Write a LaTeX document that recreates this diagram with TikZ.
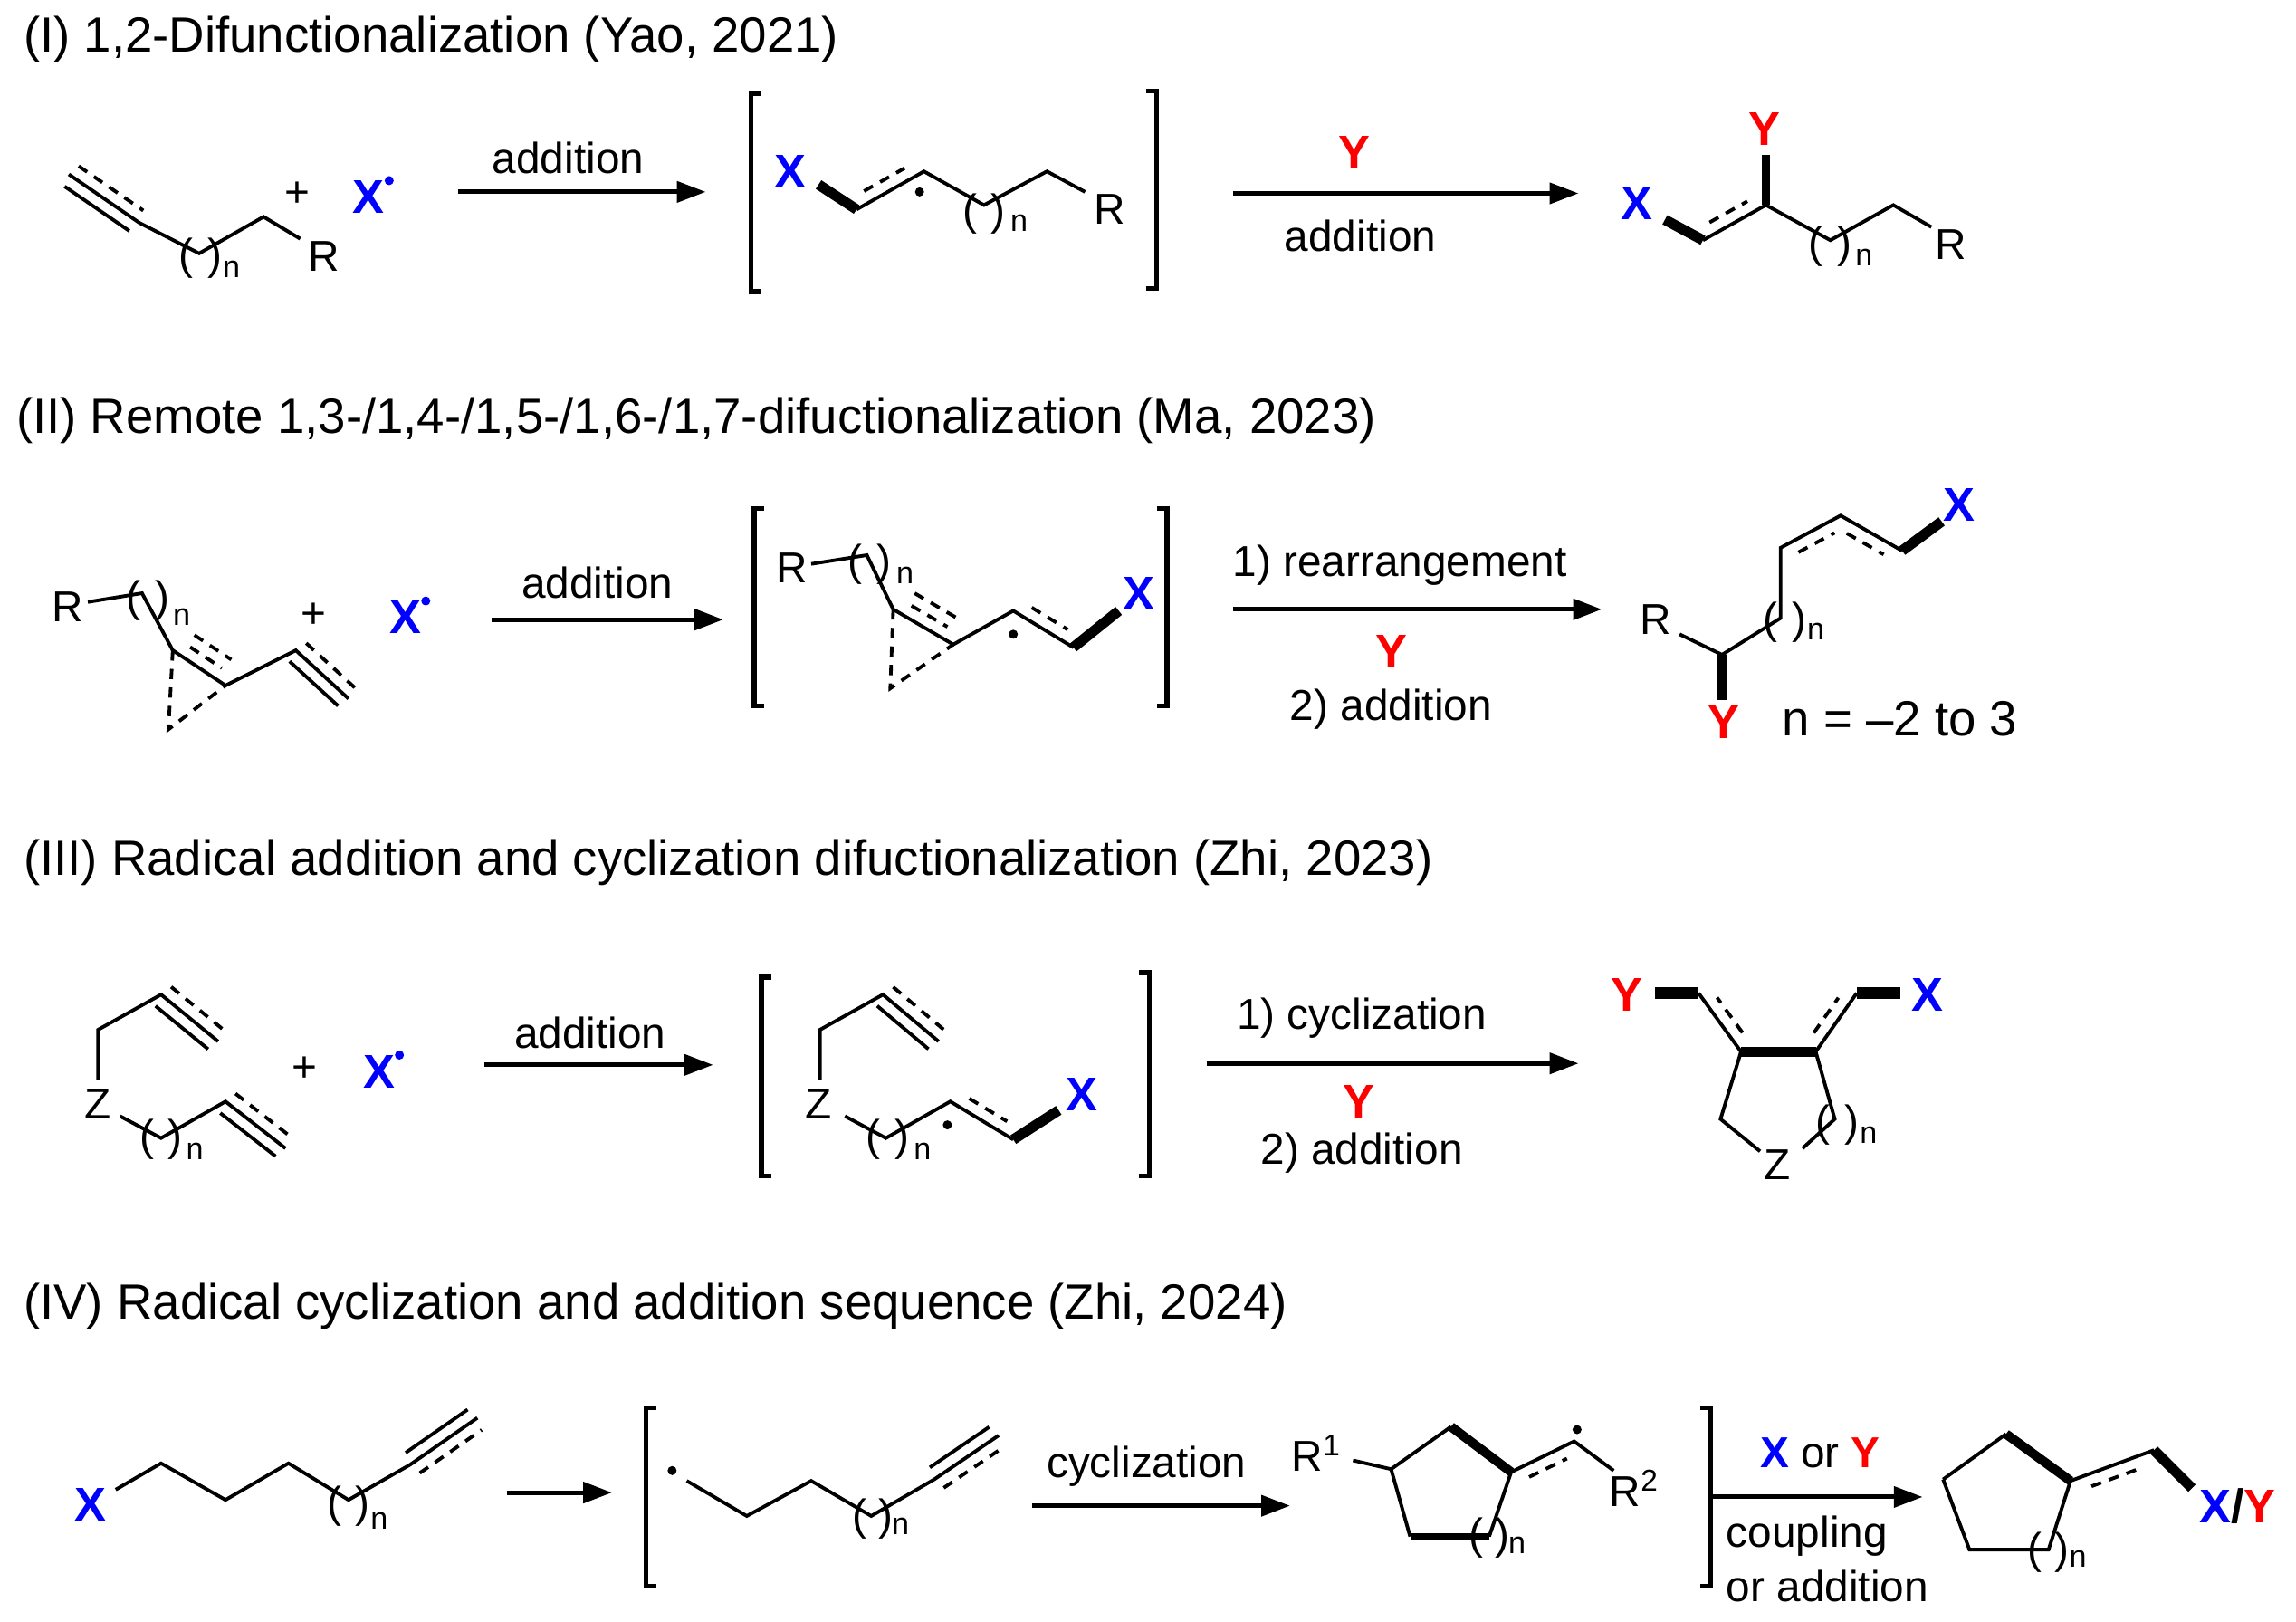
\documentclass[tikz,border=0pt]{standalone}
\usepackage{fontspec}
\setmainfont{Liberation Sans}
\usetikzlibrary{calc,arrows.meta}
\definecolor{xb}{RGB}{0,0,255}
\definecolor{yr}{RGB}{255,0,0}
\newcommand{\rdot}{\raisebox{0.6em}{\tikz\fill (0,0) circle (2.2pt);}}
\newcommand{\offl}[4][dsh]{\draw[#1] ($(#2)!.2!(#3)!6pt!#4:(#3)$) -- ($(#3)!.2!(#2)!6pt!-#4:(#2)$);}
\newcommand{\offt}[4][dsh]{\draw[#1] ($(#2)!.04!(#3)!6pt!#4:(#3)$) -- ($(#3)!.04!(#2)!6pt!-#4:(#2)$);}
\newcommand{\offd}[4][dsh]{\draw[#1] ($(#2)!.15!(#3)!12pt!#4:(#3)$) -- ($(#3)!.15!(#2)!12pt!-#4:(#2)$);}
\begin{document}
\begin{tikzpicture}[x=0.025cm,y=-0.025cm,line width=1.7pt,
 t/.style={font=\fontsize{21}{25}\selectfont,inner sep=0pt},
 ttl/.style={font=\fontsize{24}{28}\selectfont,inner sep=0pt,anchor=west},
 par/.style={font=\fontsize{21}{22}\selectfont,inner sep=0pt},
 sub/.style={font=\fontsize{15}{16}\selectfont,inner sep=0pt},
 bx/.style={font=\fontsize{23}{25}\selectfont\bfseries,inner sep=0pt,text=xb},
 by/.style={font=\fontsize{23}{25}\selectfont\bfseries,inner sep=0pt,text=yr},
 rx/.style={line width=2.2pt,-{Triangle[length=14pt,width=10pt]}},
 wb/.style={line width=5pt},
 br/.style={line width=2.4pt},
 dsh/.style={dash pattern=on 5pt off 4pt}]
\useasboundingbox (0,0) rectangle (1568,1107);
% ===== Row I
\node[ttl] (t1) at (15,27) {(I) 1,2-Difunctionalization (Yao, 2021)};
\coordinate (a1) at (47,119); \coordinate (a2) at (95,152); \coordinate (a3) at (136,173);
\coordinate (a4) at (180,148); \coordinate (a5) at (205,163);
\draw (a1)--(a2)--(a3)--(a4)--(a5);
\offt[]{a1}{a2}{-90}\offt[dsh]{a1}{a2}{90}
\node[t] (r1) at (221,175) {R};
\node[par] (pa1) at (137,176) {(\hspace{7pt})}; \node[sub] (na1) at (158,184) {n};
\node[t] (pl1) at (203,133) {+};
\node[bx] (x1) at (255,133) {X\rdot};
\coordinate (ar1a) at (313,131); \coordinate (ar1b) at (482,131);
\draw[rx] (ar1a)--(ar1b); \node[t] (l1) at (388,108) {addition};
\draw[br] (520,64)--(513,64)--(513,199)--(520,199);
\draw[br] (783,62)--(790,62)--(790,197)--(783,197);
\node[bx] (x2) at (540,117) {X};
\coordinate (b1) at (559,126); \coordinate (b2) at (585,143); \coordinate (b3) at (631,117);
\coordinate (b4) at (672,140); \coordinate (b5) at (715,117); \coordinate (b6) at (741,131);
\draw[wb] (b1)--(b2); \draw (b2)--(b3)--(b4)--(b5)--(b6);
\offl{b2}{b3}{90}
\fill (628,131) circle (2.2pt);
\node[t] (r2) at (758,143) {R};
\node[par] (pb1) at (672,146) {(\hspace{7pt})}; \node[sub] (nb1) at (696,152) {n};
\coordinate (ar2a) at (842,132); \coordinate (ar2b) at (1078,132);
\draw[rx] (ar2a)--(ar2b);
\node[by] (y1) at (925,104) {Y}; \node[t] (l2) at (929,161) {addition};
\node[bx] (x3) at (1118,139) {X};
\coordinate (p1) at (1137,150); \coordinate (p2) at (1163,164); \coordinate (p3) at (1206,140);
\coordinate (p3y) at (1206,106); \coordinate (p4) at (1250,164); \coordinate (p5) at (1293,140); \coordinate (p6) at (1319,155);
\draw[wb] (p1)--(p2); \draw (p2)--(p3)--(p4)--(p5)--(p6); \draw[line width=4pt] (p3)--(p3y);
\offl{p2}{p3}{90}
\node[by] (y2) at (1205,88) {Y};
\node[t] (r3) at (1332,167) {R};
\node[par] (pp1) at (1250,168) {(\hspace{7pt})}; \node[sub] (np1) at (1273,176) {n};
% ===== Row II
\node[ttl] (t2) at (10,287) {(II) Remote 1,3-/1,4-/1,5-/1,6-/1,7-difuctionalization (Ma, 2023)};
\node[t] (r4) at (46,414) {R};
\coordinate (q0) at (60,411); \coordinate (q1) at (97,405);
\coordinate (qA) at (118,444); \coordinate (qB) at (154,468); \coordinate (qC) at (115,498);
\coordinate (qD) at (202,444); \coordinate (qE) at (238,477);
\draw (q0)--(q1)--(qA)--(qB)--(qD)--(qE);
\node[par] (pq1) at (101,410) {(\hspace{7pt})}; \node[sub] (nq1) at (124,421) {n};
\offl{qA}{qB}{90}\offd{qA}{qB}{90}
\draw[dsh] (qA)--(qC)--(qB);
\offt[]{qD}{qE}{-90}\offt[dsh]{qD}{qE}{90}
\node[t] (pl2) at (214,420) {+};
\node[bx] (x4) at (280,420) {X\rdot};
\coordinate (ar3a) at (336,423); \coordinate (ar3b) at (494,423);
\draw[rx] (ar3a)--(ar3b); \node[t] (l3) at (408,398) {addition};
\draw[br] (522,347)--(515,347)--(515,482)--(522,482);
\draw[br] (790,347)--(797,347)--(797,482)--(790,482);
\node[t] (r5) at (541,388) {R};
\coordinate (s0) at (554,385); \coordinate (s1) at (592,379);
\coordinate (sA) at (610,416); \coordinate (sB) at (651,440); \coordinate (sC) at (608,470);
\coordinate (sD) at (692,417); \coordinate (sE) at (733,442); \coordinate (sF) at (764,417);
\draw (s0)--(s1)--(sA)--(sB)--(sD)--(sE);
\draw[wb] (sE)--(sF);
\node[par] (ps1) at (594,385) {(\hspace{7pt})}; \node[sub] (ns1) at (618,393) {n};
\offl{sA}{sB}{90}\offd{sA}{sB}{90}
\draw[dsh] (sA)--(sC)--(sB);
\offl{sD}{sE}{90}
\fill (692,433) circle (2.2pt);
\node[bx] (x5) at (778,405) {X};
\coordinate (ar4a) at (842,416); \coordinate (ar4b) at (1094,416);
\draw[rx] (ar4a)--(ar4b);
\node[t] (l4) at (956,386) {1) rearrangement};
\node[by] (y3) at (950,445) {Y};
\node[t] (l5) at (950,484) {2) addition};
\node[t] (r6) at (1131,423) {R};
\coordinate (u0) at (1147,433); \coordinate (u1) at (1176,447); \coordinate (u1y) at (1176,478);
\coordinate (u2) at (1216,422); \coordinate (u3) at (1216,374); \coordinate (u4) at (1257,352);
\coordinate (u5) at (1299,376); \coordinate (u6) at (1326,356);
\draw (u0)--(u1)--(u2)--(u3)--(u4)--(u5); \draw[line width=4pt] (u1)--(u1y); \draw[wb] (u5)--(u6);
\offl{u3}{u4}{-90}\offl{u4}{u5}{-90}
\node[par] (pu1) at (1219,425) {(\hspace{7pt})}; \node[sub] (nu1) at (1240,431) {n};
\node[by] (y4) at (1177,493) {Y};
\node[bx] (x6) at (1338,345) {X};
\node[font=\fontsize{24}{28}\selectfont,inner sep=0pt,anchor=west] (nn) at (1216,491) {n = \textendash2 to 3};
% ===== Row III
\node[ttl] (t3) at (15,589) {(III) Radical addition and cyclization difuctionalization (Zhi, 2023)};
\node[t] (z1) at (67,754) {Z};
\coordinate (c1) at (67,737); \coordinate (c2) at (67,703); \coordinate (c3) at (110,679); \coordinate (c4) at (149,711);
\draw (c1)--(c2)--(c3)--(c4);
\offt[]{c3}{c4}{-90}\offt[dsh]{c3}{c4}{90}
\coordinate (d1) at (82,762); \coordinate (d2) at (110,777); \coordinate (d3) at (154,752); \coordinate (d4) at (195,784);
\draw (d1)--(d2)--(d3)--(d4);
\offt[]{d3}{d4}{-90}\offt[dsh]{d3}{d4}{90}
\node[par] (pd1) at (110,778) {(\hspace{7pt})}; \node[sub] (nd1) at (133,786) {n};
\node[t] (pl3) at (208,730) {+};
\node[bx] (x7) at (262,730) {X\rdot};
\coordinate (ar5a) at (331,727); \coordinate (ar5b) at (487,727);
\draw[rx] (ar5a)--(ar5b); \node[t] (l6) at (403,705) {addition};
\draw[br] (527,667)--(520,667)--(520,803)--(527,803);
\draw[br] (778,664)--(785,664)--(785,803)--(778,803);
\node[t] (z2) at (559,754) {Z};
\coordinate (e1) at (560,737); \coordinate (e2) at (560,703); \coordinate (e3) at (603,679); \coordinate (e4) at (641,711);
\draw (e1)--(e2)--(e3)--(e4);
\offt[]{e3}{e4}{-90}\offt[dsh]{e3}{e4}{90}
\coordinate (f1) at (577,762); \coordinate (f2) at (605,777); \coordinate (f3) at (649,752); \coordinate (f4) at (692,778); \coordinate (f5) at (723,758);
\draw (f1)--(f2)--(f3)--(f4); \draw[wb] (f4)--(f5);
\offl{f3}{f4}{90}
\fill (647,768) circle (2.2pt);
\node[par] (pf1) at (606,778) {(\hspace{7pt})}; \node[sub] (nf1) at (630,786) {n};
\node[bx] (x8) at (739,747) {X};
\coordinate (ar6a) at (824,726); \coordinate (ar6b) at (1078,726);
\draw[rx] (ar6a)--(ar6b);
\node[t] (l7) at (930,695) {1) cyclization};
\node[by] (y5) at (928,752) {Y};
\node[t] (l8) at (930,787) {2) addition};
\coordinate (g1) at (1189,718); \coordinate (g2) at (1240,718); \coordinate (g3) at (1175,764);
\coordinate (g4) at (1253,764); \coordinate (g5) at (1231,784); \coordinate (g6) at (1202,786);
\coordinate (g7) at (1160,678); \coordinate (g8) at (1268,678); \coordinate (g9) at (1130,678); \coordinate (g10) at (1298,678);
\draw[wb] (g1)--(g2);
\draw (g1)--(g3)--(g6); \draw (g2)--(g4)--(g5);
\draw (g1)--(g7); \draw (g2)--(g8);
\offl{g1}{g7}{-90}\offl{g2}{g8}{90}
\draw[line width=6pt] (g7)--(g9); \draw[line width=6pt] (g8)--(g10);
\node[t] (z3) at (1214,795) {Z};
\node[par] (pg1) at (1255,768) {(\hspace{7pt})}; \node[sub] (ng1) at (1276,775) {n};
\node[by] (y6) at (1111,679) {Y};
\node[bx] (x9) at (1316,679) {X};
% ===== Row IV
\node[ttl] (t4) at (15,892) {(IV) Radical cyclization and addition sequence (Zhi, 2024)};
\node[bx] (x10) at (62,1027) {X};
\coordinate (h1) at (79,1017); \coordinate (h2) at (110,999); \coordinate (h3) at (154,1024);
\coordinate (h4) at (197,999); \coordinate (h5) at (238,1024); \coordinate (h6) at (280,1000); \coordinate (h7) at (326,968);
\draw (h1)--(h2)--(h3)--(h4)--(h5)--(h6)--(h7);
\offt[]{h6}{h7}{90}\offt[dsh]{h6}{h7}{-90}
\node[par] (ph1) at (238,1028) {(\hspace{7pt})}; \node[sub] (nh1) at (259,1038) {n};
\coordinate (ar7a) at (346,1019); \coordinate (ar7b) at (418,1019);
\draw[rx] (ar7a)--(ar7b);
\draw[br] (448,961)--(441,961)--(441,1083)--(448,1083);
\fill (459,1004) circle (2.2pt);
\coordinate (i1) at (469,1011); \coordinate (i2) at (510,1035); \coordinate (i3) at (554,1011);
\coordinate (i4) at (595,1035); \coordinate (i5) at (638,1010); \coordinate (i6) at (682,980);
\draw (i1)--(i2)--(i3)--(i4)--(i5)--(i6);
\offt[]{i5}{i6}{90}\offt[dsh]{i5}{i6}{-90}
\node[par] (pi1) at (596,1037) {(\hspace{6pt})}; \node[sub] (ni1) at (615,1042) {n};
\coordinate (ar8a) at (705,1028); \coordinate (ar8b) at (881,1028);
\draw[rx] (ar8a)--(ar8b);
\node[t] (l9) at (783,1001) {cyclization};
\node[t] (r7) at (899,992) {R\textsuperscript{1}};
\coordinate (k0) at (924,997); \coordinate (k1) at (950,1003); \coordinate (k2) at (991,974);
\coordinate (k3) at (1032,1005); \coordinate (k4) at (1017,1049); \coordinate (k5) at (963,1049);
\coordinate (k6) at (1075,984); \coordinate (k7) at (1102,1004);
\draw (k0)--(k1)--(k2); \draw[line width=4.5pt] (k2)--(k3);
\draw (k3)--(k4); \draw[line width=3pt] (k4)--(k5); \draw (k5)--(k1);
\draw (k3)--(k6)--(k7);
\offl{k3}{k6}{-90}
\fill (1077,976) circle (2.2pt);
\node[par] (pk1) at (1017,1050) {(\hspace{6pt})}; \node[sub] (nk1) at (1036,1055) {n};
\node[t] (r8) at (1116,1016) {R\textsuperscript{2}};
\draw[br] (1161,961)--(1168,961)--(1168,1083)--(1161,1083);
\coordinate (ar9a) at (1168,1022); \coordinate (ar9b) at (1313,1022);
\draw[rx] (ar9a)--(ar9b);
\node[t] (l10) at (1243,992) {\textcolor{xb}{\bfseries X} or \textcolor{yr}{\bfseries Y}};
\node[t] (l11) at (1234,1049) {coupling};
\node[t] (l12) at (1248,1083) {or addition};
\coordinate (m1) at (1327,1010); \coordinate (m2) at (1370,979); \coordinate (m3) at (1414,1011);
\coordinate (m4) at (1399,1058); \coordinate (m5) at (1345,1058); \coordinate (m6) at (1471,990); \coordinate (m7) at (1497,1016);
\draw (m1)--(m2); \draw[line width=4.5pt] (m2)--(m3);
\draw (m3)--(m4)--(m5)--(m1);
\draw (m3)--(m6); \draw[wb] (m6)--(m7);
\offl{m3}{m6}{-90}
\node[par] (pm1) at (1399,1060) {(\hspace{6pt})}; \node[sub] (nm1) at (1419,1064) {n};
\node[font=\fontsize{23}{25}\selectfont\bfseries,inner sep=0pt] (xy) at (1528,1028) {\textcolor{xb}{X}/\textcolor{yr}{Y}};
\end{tikzpicture}
\end{document}
